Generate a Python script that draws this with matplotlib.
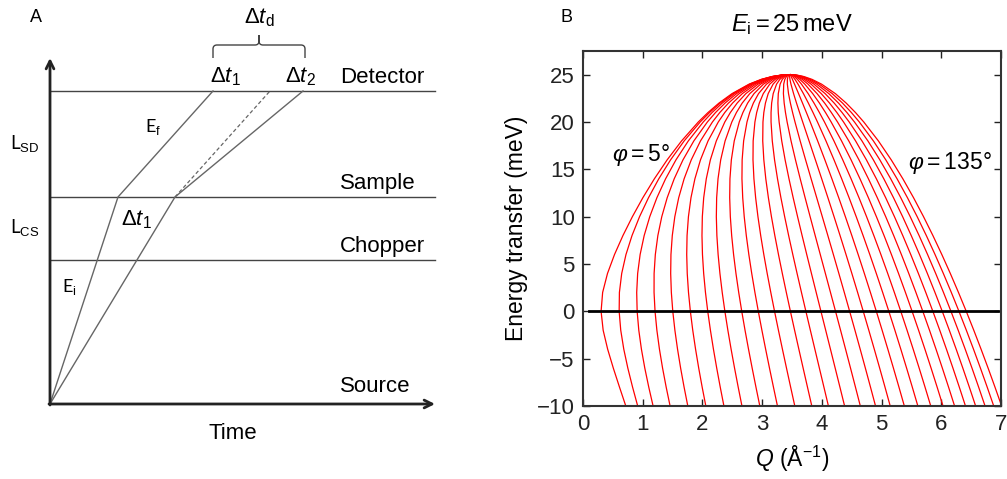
import numpy as np
import matplotlib.pyplot as plt
from matplotlib.path import Path
from matplotlib.patches import PathPatch

plt.rcParams['font.family'] = ['Liberation Sans', 'DejaVu Sans']
plt.rcParams['mathtext.fontset'] = 'custom'
plt.rcParams['mathtext.rm'] = 'Liberation Sans'
plt.rcParams['mathtext.it'] = 'Liberation Sans:italic'
plt.rcParams['mathtext.bf'] = 'Liberation Sans:bold'

# ---- panel A: time-of-flight schematic (distance vs time, arbitrary units)
levels = {'Source': 0, 'Chopper': 144, 'Sample': 207, 'Detector': 313}
path_fast_t = [0, 68, 163]      # times at source, sample, detector
path_slow_t = [0, 125, 253]
path_elastic_t = [125, 220]     # dashed, sample -> detector

# ---- panel B: kinematic limits
E_i = 25.0                                       # meV
phi_deg = list(range(5, 140, 5))                 # scattering angles 5..135
hw = [-10, -8, -6, -4, -2, 0, 2, 4, 6, 8, 10, 12, 14, 16, 18, 20,
      21, 22, 23, 24, 24.5, 24.8, 24.95, 25.0]   # energy transfer (meV)

fig = plt.figure(figsize=(10.07, 4.79), dpi=100)

# panel A axes: 1 unit = 1 pixel
axA = fig.add_axes([50 / 1007, 75 / 479, 400 / 1007, 370 / 479])
axA.set_xlim(0, 400)
axA.set_ylim(0, 370)
axA.axis('off')

grey = '#666666'
for name, y in levels.items():
    if name != 'Source':
        axA.plot([0, 385], [y, y], color='#444444', lw=1.0)
axA.annotate('', xy=(385, 0), xytext=(-1, 0),
             arrowprops=dict(arrowstyle='->', color='#222222', lw=2,
                             mutation_scale=14, shrinkA=0, shrinkB=0))
axA.annotate('', xy=(0, 346), xytext=(0, -1),
             arrowprops=dict(arrowstyle='->', color='#222222', lw=2,
                             mutation_scale=14, shrinkA=0, shrinkB=0))

ys = [levels['Source'], levels['Sample'], levels['Detector']]
axA.plot(path_fast_t, ys, color=grey, lw=1.0)
axA.plot(path_slow_t, ys, color=grey, lw=1.0)
axA.plot(path_elastic_t, [levels['Sample'], levels['Detector']],
         color=grey, lw=0.9, ls=(0, (3, 2)))

lab_fs = 16
axA.text(290, levels['Detector'] + 3, 'Detector', fontsize=lab_fs, va='bottom')
axA.text(290, levels['Sample'] + 3, 'Sample', fontsize=lab_fs, va='bottom')
axA.text(290, levels['Chopper'] + 3, 'Chopper', fontsize=lab_fs, va='bottom')
axA.text(290, 7, 'Source', fontsize=lab_fs, va='bottom')
axA.text(183, -19, 'Time', fontsize=lab_fs, ha='center', va='top')

axA.text(175, 316, r'$\Delta t_1$', fontsize=lab_fs, ha='center', va='bottom')
axA.text(250, 316, r'$\Delta t_2$', fontsize=lab_fs, ha='center', va='bottom')
axA.text(86, 184, r'$\Delta t_1$', fontsize=lab_fs, ha='center', va='center')
axA.text(209, 375, r'$\Delta t_\mathrm{d}$', fontsize=lab_fs, ha='center',
         va='bottom', clip_on=False)

# brace over delta t1 .. delta t2
verts = [(163, 346), (163, 355), (163, 359), (167, 359), (205, 359),
         (209, 359), (209, 363), (209, 369), (209, 363), (209, 359),
         (213, 359), (251, 359), (255, 359), (255, 355), (255, 346)]
codes = [Path.MOVETO, Path.LINETO, Path.CURVE3, Path.CURVE3, Path.LINETO,
         Path.CURVE3, Path.CURVE3, Path.LINETO, Path.LINETO, Path.CURVE3,
         Path.CURVE3, Path.LINETO, Path.CURVE3, Path.CURVE3, Path.LINETO]
axA.add_patch(PathPatch(Path(verts, codes), fill=False, ec='#444444',
                        lw=1.0, clip_on=False))

cal = ['Lato', 'DejaVu Sans']
axA.text(95, 272, r'E$_\mathrm{f}$', fontsize=13, family=cal)
axA.text(12, 112, r'E$_\mathrm{i}$', fontsize=13, family=cal)
axA.text(-40, 261, r'L$_\mathrm{SD}$', fontsize=13.5, family=cal, va='center')
axA.text(-40, 176, r'L$_\mathrm{CS}$', fontsize=13.5, family=cal, va='center')
fig.text(36 / 1007, 1 - 18 / 479, 'A', fontsize=13, ha='center', va='center')
fig.text(566 / 1007, 1 - 18 / 479, 'B', fontsize=13, ha='center', va='center')

# panel B
axB = fig.add_axes([583 / 1007, 73 / 479, 418 / 1007, 355 / 479])
k_fac = 0.6947  # k (1/A) = 0.6947 * sqrt(E meV)
hw_arr = np.array(hw)
ki = k_fac * np.sqrt(E_i)
kf = k_fac * np.sqrt(E_i - hw_arr)
for phi in phi_deg:
    c = np.cos(np.radians(phi))
    Q = np.sqrt(ki ** 2 + kf ** 2 - 2 * ki * kf * c)
    axB.plot(Q, hw_arr, color='red', lw=0.9)
axB.plot([0.1, 6.95], [0, 0], color='black', lw=2)

axB.set_xlim(0, 7)
axB.set_ylim(-10, 27.5)
axB.set_xticks(range(0, 8))
axB.set_yticks(range(-10, 30, 5))
axB.set_yticklabels(['\u221210', '\u22125', '0', '5', '10', '15', '20', '25'])
axB.tick_params(direction='in', top=True, right=True, length=5, width=1,
                labelsize=16, colors='#222222', pad=6)
for s in axB.spines.values():
    s.set_linewidth(1.5)
    s.set_color('#333333')
axB.set_xlabel(r'$Q$ (Å$^{-1}$)', fontsize=16.5, labelpad=6)
axB.set_ylabel('Energy transfer (meV)', fontsize=16.5, labelpad=6)
axB.set_title(r'$E_\mathrm{i}\,\!=\!\,25\,\mathrm{meV}$', fontsize=17, pad=14)
axB.text(0.48, 16.5, r'$\varphi\,\!=\!\,5°$', fontsize=16.5, va='center')
axB.text(5.45, 15.7, r'$\varphi\,\!=\!\,135°$', fontsize=16.5, va='center')

fig.savefig('out.png', dpi=100)
